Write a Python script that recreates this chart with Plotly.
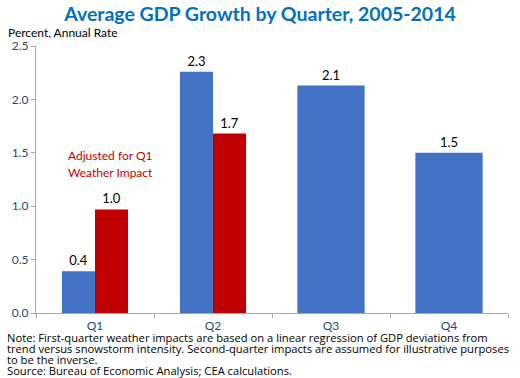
import plotly.graph_objects as go

quarters = ["Q1", "Q2", "Q3", "Q4"]
avg_growth = [0.39, 2.26, 2.13, 1.50]
avg_labels = ["0.4", "2.3", "2.1", "1.5"]
adj_quarters = ["Q1", "Q2"]
adj_growth = [0.97, 1.68]
adj_labels = ["1.0", "1.7"]
y_ticks = [0.0, 0.5, 1.0, 1.5, 2.0, 2.5]
note_lines = [
    "Note: First-quarter weather impacts are based on a linear regression of GDP deviations from",
    "trend versus snowstorm intensity. Second-quarter impacts are assumed for illustrative purposes",
    "to be the inverse.",
    "Source: Bureau of Economic Analysis; CEA calculations.",
]
adj_note = ["Adjusted for Q1", "Weather Impact"]

FONT = "Lato"
NOTE_FONT = "Open Sans"
BLUE = "#4472C4"
RED = "#C00000"
AXIS_TXT = "#1F497D"

fig = go.Figure()
fig.add_trace(go.Bar(
    x=quarters, y=avg_growth, text=avg_labels, textposition="outside",
    marker=dict(color=BLUE, line=dict(width=0)),
    width=[0.28, 0.28, 0.57, 0.57], offset=[-0.28, -0.28, -0.285, -0.285],
    textfont=dict(color="black", size=13, family=FONT), cliponaxis=False,
    showlegend=False,
))
fig.add_trace(go.Bar(
    x=adj_quarters, y=adj_growth, text=adj_labels, textposition="outside",
    marker=dict(color=RED, line=dict(width=0)),
    width=0.28, offset=0,
    textfont=dict(color="black", size=13, family=FONT), cliponaxis=False,
    showlegend=False,
))

annotations = [
    dict(text="Percent, Annual Rate", xref="paper", yref="paper",
         x=-0.064, y=1.05, xanchor="left", yanchor="middle",
         showarrow=False, font=dict(size=12, color="black", family=FONT)),
]
for i, line in enumerate(adj_note):
    annotations.append(dict(text=line, xref="paper", yref="paper",
                            x=(110 - 36) / 472, y=(313 - 155 - 17 * i) / 267,
                            xanchor="center", yanchor="middle", showarrow=False,
                            font=dict(size=12, color=RED, family=FONT)))
for i, line in enumerate(note_lines):
    annotations.append(dict(text=line, xref="paper", yref="paper",
                            x=(5 - 36) / 472, y=(313 - 337.5 - 11 * i) / 267,
                            xanchor="left", yanchor="middle", showarrow=False,
                            font=dict(size=11.2, color="black", family=NOTE_FONT)))

fig.update_layout(
    width=520, height=378, barmode="overlay",
    margin=dict(l=36, r=12, t=46, b=65),
    paper_bgcolor="white", plot_bgcolor="white",
    font=dict(family=FONT, size=12, color="black"),
    title=dict(text="<b>Average GDP Growth by Quarter, 2005-2014</b>",
               x=0.5, xanchor="center", y=0.962, yanchor="middle",
               font=dict(family=FONT, size=19.5, color="#0070C0")),
    xaxis=dict(categoryorder="array", categoryarray=quarters,
               range=[-0.5, 3.5],
               showline=True, linecolor="#A6A6A6", linewidth=1,
               ticks="outside", tickson="boundaries", ticklen=4, tickcolor="#A6A6A6",
               tickfont=dict(color=AXIS_TXT, size=12, family=FONT),
               ticklabelstandoff=2,
               showgrid=False, zeroline=False),
    yaxis=dict(range=[0, 2.5], tickvals=y_ticks, tickformat=".1f",
               showline=True, linecolor="#A6A6A6", linewidth=1,
               ticks="outside", ticklen=4, tickcolor="#A6A6A6",
               tickfont=dict(color=AXIS_TXT, size=12, family=FONT),
               showgrid=False, zeroline=False),
    annotations=annotations,
)

fig.write_html("out.html", config={"displayModeBar": False},
               post_script="document.body.style.margin='0';document.body.style.overflow='hidden';")
